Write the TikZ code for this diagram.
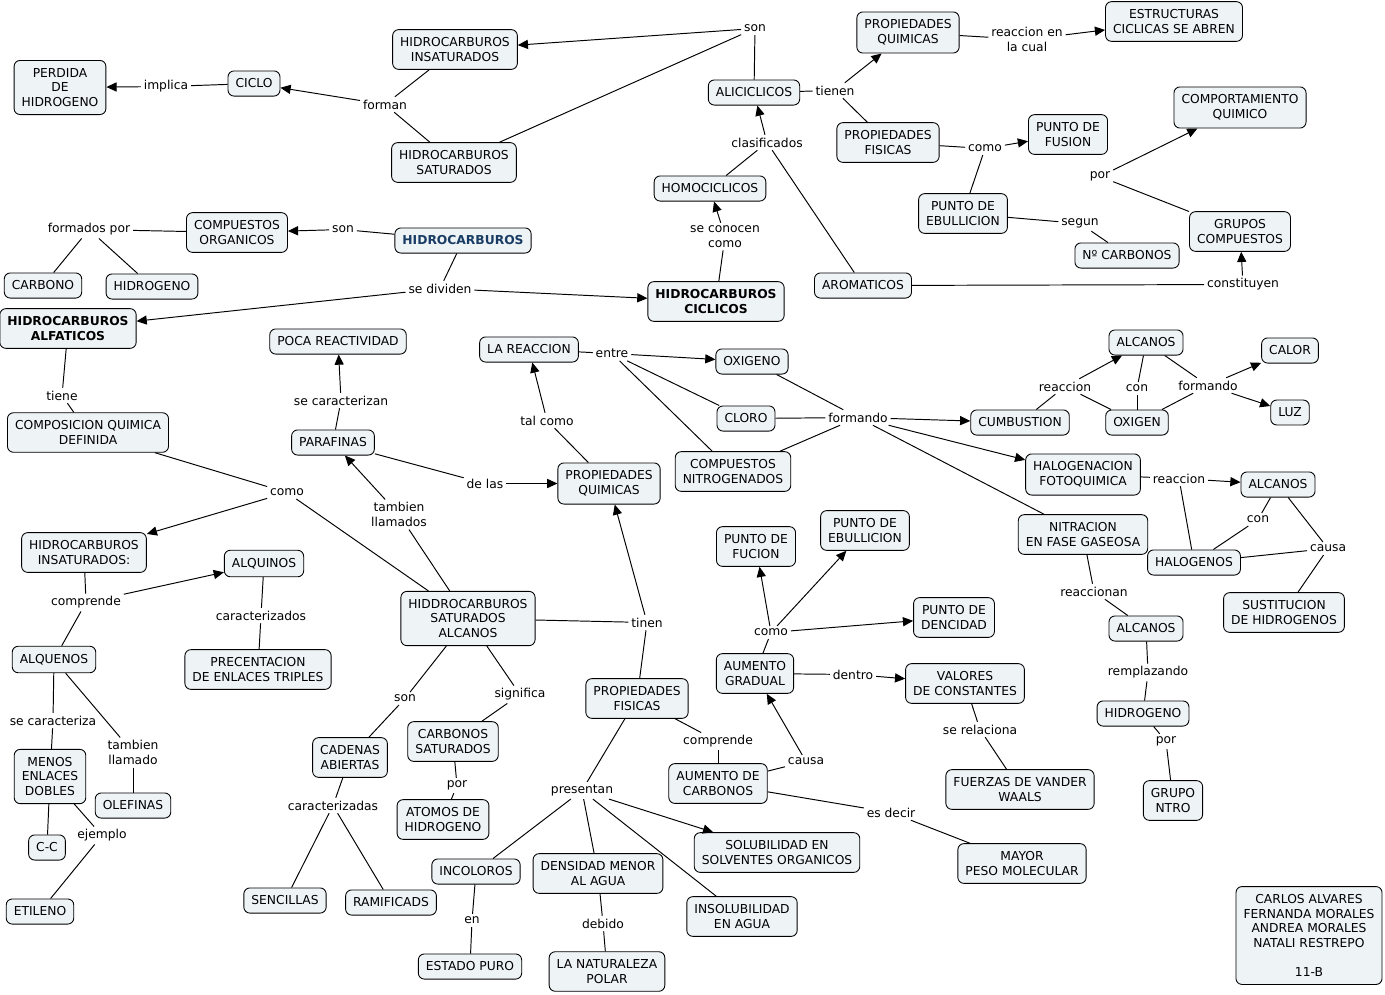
\documentclass[tikz,border=0pt]{standalone}
\usepackage{fontspec}
\setmainfont{DejaVu Sans}
\usepackage{tikz}
\usetikzlibrary{arrows.meta}
\definecolor{conceptfill}{RGB}{238,243,246}
\definecolor{rootblue}{RGB}{24,60,100}

\begin{document}
\begin{tikzpicture}[x=0.02cm, y=-0.02cm, >={Triangle[length=5.8pt,width=5.2pt]},
	every node/.style={font=\fontsize{7}{8.3}\selectfont, align=center},
	concept/.style={draw, fill=conceptfill, line width=.5pt, rounded corners=.12cm, inner xsep=4.3pt, inner ysep=4.5pt},
	keyconcept/.style={concept, font=\fontsize{7}{8.3}\selectfont\bfseries},
	link/.style={inner sep=1.5pt},
	line/.style={line width=.55pt},
	post/.style={->, line width=.55pt}]

	\useasboundingbox (0,-1.5) rectangle (1385,992.5);

	\node[concept] (HIns) at (455,48) {HIDROCARBUROS\\INSATURADOS};
	\node[concept] (HSat) at (454,161) {HIDROCARBUROS\\SATURADOS};
	\node[concept] (Ciclo) at (254,82) {CICLO};
	\node[concept] (Perdida) at (60,86) {PERDIDA\\DE\\HIDROGENO};
	\node[concept] (Alic) at (754,91) {ALICICLICOS};
	\node[concept] (PQa) at (908,31) {PROPIEDADES\\QUIMICAS};
	\node[concept] (Estruc) at (1174,20) {ESTRUCTURAS\\CICLICAS SE ABREN};
	\node[concept] (PFa) at (888,141) {PROPIEDADES\\FISICAS};
	\node[concept] (PFusion) at (1068,133) {PUNTO DE\\FUSION};
	\node[concept] (Comport) at (1240,106) {COMPORTAMIENTO\\QUIMICO};
	\node[concept] (PEbA) at (963,212) {PUNTO DE\\EBULLICION};
	\node[concept] (NCarb) at (1127,254) {Nº CARBONOS};
	\node[concept] (Grupos) at (1240,230) {GRUPOS\\COMPUESTOS};
	\node[concept] (Arom) at (863,284) {AROMATICOS};
	\node[concept] (Homo) at (710,187) {HOMOCICLICOS};
	\node[keyconcept] (HCic) at (716,300) {HIDROCARBUROS\\CICLICOS};
	\node[keyconcept, text=rootblue] (Hidro) at (463,239) {HIDROCARBUROS};
	\node[concept] (COrg) at (237,231) {COMPUESTOS\\ORGANICOS};
	\node[concept] (Carbono) at (43,284) {CARBONO};
	\node[concept] (HidrA) at (152,285) {HIDROGENO};
	\node[keyconcept] (HAlf) at (68,327) {HIDROCARBUROS\\ALFATICOS};
	\node[concept] (Poca) at (338,340) {POCA REACTIVIDAD};
	\node[concept] (Reacc) at (529,348) {LA REACCION};
	\node[concept] (Oxigeno) at (752,360) {OXIGENO};
	\node[concept] (Cloro) at (746,417) {CLORO};
	\node[concept] (CNitro) at (733,470) {COMPUESTOS\\NITROGENADOS};
	\node[concept] (Cumb) at (1020,421) {CUMBUSTION};
	\node[concept] (AlcA) at (1146,341) {ALCANOS};
	\node[concept] (Oxigen) at (1137,421) {OXIGEN};
	\node[concept] (Calor) at (1290,349) {CALOR};
	\node[concept] (Luz) at (1290,411) {LUZ};
	\node[concept] (Halog) at (1083,473) {HALOGENACION\\FOTOQUIMICA};
	\node[concept] (AlcB) at (1278,483) {ALCANOS};
	\node[concept] (Nitra) at (1083,533) {NITRACION\\EN FASE GASEOSA};
	\node[concept] (Halogenos) at (1194,561) {HALOGENOS};
	\node[concept] (Sustit) at (1284,611) {SUSTITUCION\\DE HIDROGENOS};
	\node[concept] (AlcC) at (1146,627) {ALCANOS};
	\node[concept] (HidrB) at (1143,712) {HIDROGENO};
	\node[concept] (GrupoN) at (1173,799) {GRUPO\\NTRO};
	\node[concept] (CompQ) at (88,431) {COMPOSICION QUIMICA\\DEFINIDA};
	\node[concept] (Paraf) at (333,441) {PARAFINAS};
	\node[concept] (PQb) at (609,482) {PROPIEDADES\\QUIMICAS};
	\node[concept] (HInsB) at (84,551) {HIDROCARBUROS\\INSATURADOS:};
	\node[concept] (Alquinos) at (264,562) {ALQUINOS};
	\node[concept] (HSatAlc) at (468,617) {HIDDROCARBUROS\\SATURADOS\\ALCANOS};
	\node[concept] (Alquenos) at (54,658) {ALQUENOS};
	\node[concept] (Precent) at (258,668) {PRECENTACION\\DE ENLACES TRIPLES};
	\node[concept] (PFucion) at (756,545) {PUNTO DE\\FUCION};
	\node[concept] (PEbB) at (865,529) {PUNTO DE\\EBULLICION};
	\node[concept] (PDenc) at (954,616) {PUNTO DE\\DENCIDAD};
	\node[concept] (AumGrad) at (755,672) {AUMENTO\\GRADUAL};
	\node[concept] (Valores) at (965,682) {VALORES\\DE CONSTANTES};
	\node[concept] (PFb) at (637,697) {PROPIEDADES\\FISICAS};
	\node[concept] (Cadenas) at (350,756) {CADENAS\\ABIERTAS};
	\node[concept] (CSat) at (453,740) {CARBONOS\\SATURADOS};
	\node[concept] (AumCarb) at (718,782) {AUMENTO DE\\CARBONOS};
	\node[concept] (Fuerzas) at (1020,788) {FUERZAS DE VANDER\\WAALS};
	\node[concept] (Menos) at (50,775) {MENOS\\ENLACES\\DOBLES};
	\node[concept] (Olefinas) at (133,804) {OLEFINAS};
	\node[concept] (CC) at (47,846) {C-C};
	\node[concept] (Etileno) at (40,910) {ETILENO};
	\node[concept] (Atomos) at (443,818) {ATOMOS DE\\HIDROGENO};
	\node[concept] (Sencillas) at (285,899) {SENCILLAS};
	\node[concept] (Ramif) at (391,901) {RAMIFICADS};
	\node[concept] (Incol) at (476,870) {INCOLOROS};
	\node[concept] (Densidad) at (598,872) {DENSIDAD MENOR\\AL AGUA};
	\node[concept] (Solub) at (777,851) {SOLUBILIDAD EN\\SOLVENTES ORGANICOS};
	\node[concept] (Insolub) at (742,915) {INSOLUBILIDAD\\EN AGUA};
	\node[concept] (Mayor) at (1022,862) {MAYOR\\PESO MOLECULAR};
	\node[concept] (EstPuro) at (470,965) {ESTADO PURO};
	\node[concept] (Natural) at (607,970) {LA NATURALEZA\\POLAR};
	\node[concept, minimum width=2.88cm, minimum height=1.92cm] (Autores) at (1309,934)
		{CARLOS ALVARES\\FERNANDA MORALES\\ANDREA MORALES\\NATALI RESTREPO\\[8.3pt]11-B};

	% link phrases
	\node[link] (lSonA) at (755,27) {son};
	\node[link] (lForman) at (385,103) {forman};
	\node[link] (lImplica) at (166,85) {implica};
	\node[link] (lTienenA) at (835,89) {tienen};
	\node[link] (lReacEn) at (1027,38) {reaccion en\\la cual};
	\node[link] (lClasif) at (767,141) {clasificados};
	\node[link] (lComoA) at (985,147) {como};
	\node[link] (lSegun) at (1080,222) {segun};
	\node[link] (lPorA) at (1100,175) {por};
	\node[link] (lConst) at (1243,283) {constituyen};
	\node[link] (lConocen) at (725,235) {se conocen\\como};
	\node[link] (lSonB) at (343,228) {son};
	\node[link] (lFormados) at (89,228) {formados por};
	\node[link] (lDividen) at (440,287) {se dividen};
	\node[link] (lTiene) at (62,394) {tiene};
	\node[link] (lComoB) at (287,491) {como};
	\node[link] (lCaracterizan) at (341,399) {se caracterizan};
	\node[link] (lLlamados) at (399,513) {tambien\\llamados};
	\node[link] (lDeLas) at (485,482) {de las};
	\node[link] (lTalComo) at (547,419) {tal como};
	\node[link] (lEntre) at (612,352) {entre};
	\node[link] (lFormandoA) at (858,416) {formando};
	\node[link] (lReaccionA) at (1065,385) {reaccion};
	\node[link] (lConA) at (1137,387) {con};
	\node[link] (lFormandoB) at (1208,384) {formando};
	\node[link] (lReaccionB) at (1179,477) {reaccion};
	\node[link] (lConB) at (1258,518) {con};
	\node[link] (lCausaA) at (1328,547) {causa};
	\node[link] (lReaccionan) at (1094,590) {reaccionan};
	\node[link] (lRemplaz) at (1148,671) {remplazando};
	\node[link] (lPorB) at (1166,740) {por};
	\node[link] (lComprendeA) at (86,601) {comprende};
	\node[link] (lCaracterizados) at (261,614) {caracterizados};
	\node[link] (lTinen) at (647,621) {tinen};
	\node[link] (lSonC) at (405,697) {son};
	\node[link] (lSignifica) at (520,693) {significa};
	\node[link] (lSeCaract) at (53,719) {se caracteriza};
	\node[link] (lLlamado) at (133,751) {tambien\\llamado};
	\node[link] (lEjemplo) at (102,834) {ejemplo};
	\node[link] (lCaracterizadas) at (333,804) {caracterizadas};
	\node[link] (lPorC) at (457,784) {por};
	\node[link] (lPresentan) at (582,789) {presentan};
	\node[link] (lEn) at (472,919) {en};
	\node[link] (lDebido) at (603,922) {debido};
	\node[link] (lComprendeB) at (718,740) {comprende};
	\node[link] (lCausaB) at (806,760) {causa};
	\node[link] (lEsDecir) at (891,811) {es decir};
	\node[link] (lComoC) at (771,631) {como};
	\node[link] (lDentro) at (853,673) {dentro};
	\node[link] (lRelaciona) at (980,728) {se relaciona};

	\draw[line] (Alic) -- (lSonA);
	\draw[post] (lSonA) -- (HIns);
	\draw[line] (lSonA) -- (HSat);
	\draw[line] (HIns) -- (lForman);
	\draw[line] (HSat) -- (lForman);
	\draw[post] (lForman) -- (Ciclo);
	\draw[line] (Ciclo) -- (lImplica);
	\draw[post] (lImplica) -- (Perdida);
	\draw[line] (Alic) -- (lTienenA);
	\draw[post] (lTienenA) -- (PQa);
	\draw[line] (lTienenA) -- (PFa);
	\draw[line] (PQa) -- (lReacEn);
	\draw[post] (lReacEn) -- (Estruc);
	\draw[line] (Homo) -- (lClasif);
	\draw[line] (Arom) -- (lClasif);
	\draw[post] (lClasif) -- (Alic);
	\draw[line] (PFa) -- (lComoA);
	\draw[line] (PEbA) -- (lComoA);
	\draw[post] (lComoA) -- (PFusion);
	\draw[line] (PEbA) -- (lSegun);
	\draw[line] (lSegun) -- (NCarb);
	\draw[line] (Grupos) -- (lPorA);
	\draw[post] (lPorA) -- (Comport);
	\draw[line] (Arom) -- (lConst);
	\draw[post] (lConst) -- (Grupos);
	\draw[line] (HCic) -- (lConocen);
	\draw[post] (lConocen) -- (Homo);
	\draw[line] (Hidro) -- (lSonB);
	\draw[post] (lSonB) -- (COrg);
	\draw[line] (COrg) -- (lFormados);
	\draw[line] (lFormados) -- (Carbono);
	\draw[line] (lFormados) -- (HidrA);
	\draw[line] (Hidro) -- (lDividen);
	\draw[post] (lDividen) -- (HCic);
	\draw[post] (lDividen) -- (HAlf);
	\draw[line] (HAlf) -- (lTiene);
	\draw[line] (lTiene) -- (CompQ);
	\draw[line] (CompQ) -- (lComoB);
	\draw[line] (HSatAlc) -- (lComoB);
	\draw[post] (lComoB) -- (HInsB);
	\draw[line] (Paraf) -- (lCaracterizan);
	\draw[post] (lCaracterizan) -- (Poca);
	\draw[line] (HSatAlc) -- (lLlamados);
	\draw[post] (lLlamados) -- (Paraf);
	\draw[line] (Paraf) -- (lDeLas);
	\draw[post] (lDeLas) -- (PQb);
	\draw[line] (PQb) -- (lTalComo);
	\draw[post] (lTalComo) -- (Reacc);
	\draw[line] (Reacc) -- (lEntre);
	\draw[post] (lEntre) -- (Oxigeno);
	\draw[line] (lEntre) -- (Cloro);
	\draw[line] (lEntre) -- (CNitro);
	\draw[line] (Oxigeno) -- (lFormandoA);
	\draw[line] (Cloro) -- (lFormandoA);
	\draw[line] (CNitro) -- (lFormandoA);
	\draw[post] (lFormandoA) -- (Cumb);
	\draw[post] (lFormandoA) -- (Halog);
	\draw[line] (lFormandoA) -- (Nitra);
	\draw[line] (Cumb) -- (lReaccionA);
	\draw[post] (lReaccionA) -- (AlcA);
	\draw[line] (lReaccionA) -- (Oxigen);
	\draw[line] (AlcA) -- (lConA);
	\draw[line] (lConA) -- (Oxigen);
	\draw[line] (AlcA) -- (lFormandoB);
	\draw[line] (Oxigen) -- (lFormandoB);
	\draw[post] (lFormandoB) -- (Calor);
	\draw[post] (lFormandoB) -- (Luz);
	\draw[line] (Halog) -- (lReaccionB);
	\draw[line] (Halogenos) -- (lReaccionB);
	\draw[post] (lReaccionB) -- (AlcB);
	\draw[line] (AlcB) -- (lConB);
	\draw[line] (lConB) -- (Halogenos);
	\draw[line] (AlcB) -- (lCausaA);
	\draw[line] (Halogenos) -- (lCausaA);
	\draw[line] (lCausaA) -- (Sustit);
	\draw[line] (Nitra) -- (lReaccionan);
	\draw[line] (lReaccionan) -- (AlcC);
	\draw[line] (AlcC) -- (lRemplaz);
	\draw[line] (lRemplaz) -- (HidrB);
	\draw[line] (HidrB) -- (lPorB);
	\draw[line] (lPorB) -- (GrupoN);
	\draw[line] (HInsB) -- (lComprendeA);
	\draw[post] (lComprendeA) -- (Alquinos);
	\draw[line] (lComprendeA) -- (Alquenos);
	\draw[line] (Alquinos) -- (lCaracterizados);
	\draw[line] (lCaracterizados) -- (Precent);
	\draw[line] (HSatAlc) -- (lTinen);
	\draw[post] (lTinen) -- (PQb);
	\draw[line] (lTinen) -- (PFb);
	\draw[line] (HSatAlc) -- (lSonC);
	\draw[line] (lSonC) -- (Cadenas);
	\draw[line] (HSatAlc) -- (lSignifica);
	\draw[line] (lSignifica) -- (CSat);
	\draw[line] (Alquenos) -- (lSeCaract);
	\draw[line] (lSeCaract) -- (Menos);
	\draw[line] (Alquenos) -- (lLlamado);
	\draw[line] (lLlamado) -- (Olefinas);
	\draw[line] (Menos) -- (CC);
	\draw[line] (Menos) -- (lEjemplo);
	\draw[line] (lEjemplo) -- (Etileno);
	\draw[line] (Cadenas) -- (lCaracterizadas);
	\draw[line] (lCaracterizadas) -- (Sencillas);
	\draw[line] (lCaracterizadas) -- (Ramif);
	\draw[line] (CSat) -- (lPorC);
	\draw[line] (lPorC) -- (Atomos);
	\draw[line] (PFb) -- (lPresentan);
	\draw[line] (lPresentan) -- (Incol);
	\draw[line] (lPresentan) -- (Densidad);
	\draw[post] (lPresentan) -- (Solub);
	\draw[line] (lPresentan) -- (Insolub);
	\draw[line] (Incol) -- (lEn);
	\draw[line] (lEn) -- (EstPuro);
	\draw[line] (Densidad) -- (lDebido);
	\draw[line] (lDebido) -- (Natural);
	\draw[line] (PFb) -- (lComprendeB);
	\draw[line] (lComprendeB) -- (AumCarb);
	\draw[line] (AumCarb) -- (lCausaB);
	\draw[post] (lCausaB) -- (AumGrad);
	\draw[line] (AumCarb) -- (lEsDecir);
	\draw[line] (lEsDecir) -- (Mayor);
	\draw[line] (AumGrad) -- (lComoC);
	\draw[post] (lComoC) -- (PFucion);
	\draw[post] (lComoC) -- (PEbB);
	\draw[post] (lComoC) -- (PDenc);
	\draw[line] (AumGrad) -- (lDentro);
	\draw[post] (lDentro) -- (Valores);
	\draw[line] (Valores) -- (lRelaciona);
	\draw[line] (lRelaciona) -- (Fuerzas);

\end{tikzpicture}
\end{document}
